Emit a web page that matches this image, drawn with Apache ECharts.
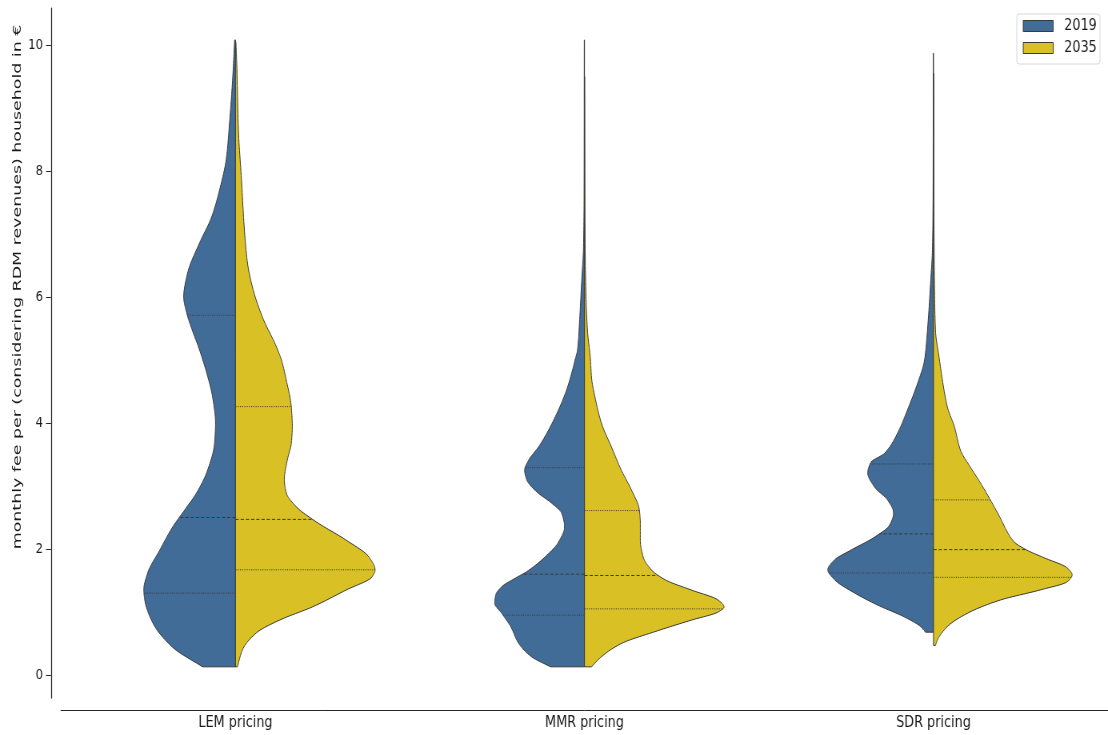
<!DOCTYPE html>
<html>
<head>
<meta charset="utf-8">
<script src="https://cdn.jsdelivr.net/npm/echarts@6/dist/echarts.min.js"></script>
<style>
  html, body { margin: 0; padding: 0; background: #fff; overflow: hidden; }
  #wrap { width: 1108px; height: 735px; overflow: hidden; }
  /* the figure is laid out wider and then squeezed horizontally */
  #chart { width: 1385px; height: 735px; transform: scaleX(0.8); transform-origin: 0 0; }
</style>
</head>
<body>
<div id="wrap"><div id="chart"></div></div>
<script>
// ---- data -------------------------------------------------------------
const categories = ['LEM pricing', 'MMR pricing', 'SDR pricing'];
const years = ['2019', '2035'];
const yTicks = [0, 2, 4, 6, 8, 10];

// kernel density profiles: [fee in €, relative density]
const lem2019 = [[0.13,.236],[0.44,.45],[0.83,.593],[1.19,.65],[1.35,.657],[1.62,.629],[1.98,.543],[2.35,.45],[2.62,.364],[2.89,.279],[3.25,.2],[3.68,.15],[4.0,.143],[4.41,.164],[4.8,.207],[5.2,.264],[5.5,.314],[5.75,.35],[6.0,.371],[6.38,.343],[6.86,.257],[7.27,.171],[7.7,.114],[8.22,.064],[8.76,.043],[9.44,.021],[10.08,.006]];
const lem2035 = [[0.13,.014],[0.40,.05],[0.67,.15],[0.87,.314],[1.08,.55],[1.35,.793],[1.56,.979],[1.67,1.0],[1.87,.957],[2.14,.793],[2.43,.579],[2.67,.436],[2.89,.364],[3.10,.35],[3.41,.371],[3.68,.4],[3.94,.407],[4.25,.4],[4.68,.364],[5.0,.329],[5.21,.293],[5.68,.193],[6.16,.121],[6.54,.086],[7.06,.064],[7.86,.043],[8.65,.021],[9.71,.009],[10.05,.003]];
const mmr2019 = [[0.13,.243],[0.29,.379],[0.5,.471],[0.77,.529],[0.98,.593],[1.14,.643],[1.27,.636],[1.40,.593],[1.54,.493],[1.64,.414],[1.88,.279],[2.11,.186],[2.35,.143],[2.57,.164],[2.73,.236],[2.91,.343],[3.10,.414],[3.25,.429],[3.41,.4],[3.62,.329],[3.89,.257],[4.21,.186],[4.52,.129],[4.84,.086],[5.0,.068],[5.16,.05],[5.59,.036],[6.22,.021],[6.8,.007],[7.6,.003],[10.08,.0015]];
const mmr2035 = [[0.13,.05],[0.29,.121],[0.5,.264],[0.69,.507],[0.87,.764],[1.0,.957],[1.08,1.0],[1.19,.957],[1.35,.764],[1.51,.579],[1.67,.479],[1.87,.421],[2.14,.4],[2.41,.4],[2.62,.393],[2.94,.336],[3.25,.264],[3.62,.193],[4.0,.121],[4.37,.079],[4.73,.05],[5.0,.043],[5.48,.021],[6.0,.011],[7.0,.004],[9.5,.0015]];
const sdr2019 = [[0.68,.057],[0.77,.093],[0.92,.207],[1.11,.4],[1.30,.564],[1.51,.707],[1.67,.757],[1.83,.707],[1.98,.593],[2.19,.421],[2.38,.314],[2.57,.286],[2.78,.329],[2.98,.421],[3.21,.471],[3.37,.45],[3.52,.35],[3.84,.257],[4.21,.186],[4.63,.114],[5.0,.064],[5.48,.043],[6.22,.021],[6.8,.007],[7.6,.003],[9.87,.0015]];
const sdr2035 = [[0.47,.014],[0.56,.029],[0.77,.1],[0.98,.243],[1.19,.479],[1.35,.764],[1.48,.957],[1.59,.993],[1.70,.957],[1.86,.793],[1.98,.671],[2.11,.579],[2.27,.529],[2.49,.479],[2.78,.407],[3.05,.336],[3.30,.264],[3.57,.193],[3.94,.15],[4.25,.1],[4.68,.064],[5.0,.043],[5.48,.014],[6.2,.007],[7.5,.003],[9.55,.0015]];

// quartiles [Q1, median, Q3]
const quart2019 = [[1.30, 2.50, 5.71], [0.95, 1.60, 3.29], [1.62, 2.24, 3.35]];
const quart2035 = [[1.67, 2.47, 4.26], [1.05, 1.58, 2.61], [1.55, 1.99, 2.78]];

const profiles = { '2019': [lem2019, mmr2019, sdr2019], '2035': [lem2035, mmr2035, sdr2035] };
const quartiles = { '2019': quart2019, '2035': quart2035 };
const colors = { '2019': '#426c98', '2035': '#d9c125' };

// ---- drawing helpers ---------------------------------------------------
const EDGE = '#3a3a3a';
const HALF = 0.4; // widest half-violin as a share of the category band

// monotone cubic (Fritsch–Carlson) tangents for a profile
function tangents(prof) {
  const n = prof.length, d = [], m = new Array(n);
  for (let i = 0; i < n - 1; i++) d.push((prof[i + 1][1] - prof[i][1]) / (prof[i + 1][0] - prof[i][0]));
  m[0] = d[0]; m[n - 1] = d[n - 2];
  for (let i = 1; i < n - 1; i++) {
    if (d[i - 1] * d[i] <= 0) { m[i] = 0; continue; }
    const h0 = prof[i][0] - prof[i - 1][0], h1 = prof[i + 1][0] - prof[i][0];
    const w1 = 2 * h1 + h0, w2 = h1 + 2 * h0;
    m[i] = (w1 + w2) / (w1 / d[i - 1] + w2 / d[i]);
  }
  return m;
}

// densely sampled outline [value, density] following the profile smoothly
function outline(prof, seg) {
  const m = tangents(prof), out = [];
  for (let i = 0; i < prof.length - 1; i++) {
    const [x0, y0] = prof[i], [x1, y1] = prof[i + 1], h = x1 - x0;
    for (let k = 0; k < seg; k++) {
      const t = k / seg, t2 = t * t, t3 = t2 * t;
      const y = (2 * t3 - 3 * t2 + 1) * y0 + (t3 - 2 * t2 + t) * h * m[i] +
                (-2 * t3 + 3 * t2) * y1 + (t3 - t2) * h * m[i + 1];
      out.push([x0 + t * h, Math.max(0, y)]);
    }
  }
  out.push(prof[prof.length - 1]);
  return out;
}

function densityAt(line, v) {
  for (let i = 0; i < line.length - 1; i++) {
    const a = line[i], b = line[i + 1];
    if (v >= a[0] && v <= b[0]) return a[1] + (b[1] - a[1]) * (v - a[0]) / (b[0] - a[0]);
  }
  return 0;
}

function makeRender(year, side) {
  return function (params, api) {
    const idx = api.value(0);
    const prof = profiles[year][idx];
    const line = outline(prof, 12);
    const cx = api.coord([idx, 0])[0];
    const scale = api.size([1, 0])[0] * HALF;
    const curve = line.map(p => [cx + side * p[1] * scale, api.coord([idx, p[0]])[1]]);
    const yBot = api.coord([idx, prof[0][0]])[1];
    const yTop = api.coord([idx, prof[prof.length - 1][0]])[1];
    const pts = [[cx, yBot]].concat(curve, [[cx, yTop]]);
    const children = [{
      type: 'polygon',
      shape: { points: pts },
      style: { fill: colors[year], stroke: EDGE, lineWidth: 1, lineJoin: 'round' }
    }];
    quartiles[year][idx].forEach((q, k) => {
      const y = api.coord([idx, q])[1];
      const w = densityAt(line, q) * scale;
      children.push({
        type: 'line',
        shape: { x1: cx, y1: y, x2: cx + side * w, y2: y },
        style: { stroke: EDGE, lineWidth: 1, lineDash: k === 1 ? [4, 2.5] : [1.2, 1.6] }
      });
    });
    return { type: 'group', children };
  };
}

// ---- chart -------------------------------------------------------------
const chart = echarts.init(document.getElementById('chart'), null, { renderer: 'canvas' });
const FONT = 'DejaVu Sans';
const TXT = '#1a1a1a';

chart.setOption({
  animation: false,
  backgroundColor: '#fff',
  grid: { left: 76.25, top: 8, width: 1312.5, bottom: 37, containLabel: false },
  legend: {
    data: years,
    orient: 'vertical',
    right: 10,
    top: 14,
    icon: 'rect',
    itemWidth: 37.5,
    itemHeight: 11,
    itemGap: 6,
    padding: [4, 4, 8, 7.5],
    borderColor: '#d6d6d6',
    borderWidth: 1,
    borderRadius: 3,
    itemStyle: { borderColor: EDGE, borderWidth: 1 },
    textStyle: { fontFamily: FONT, fontSize: 16, lineHeight: 16, color: TXT, padding: [0, 0, 0, 8.75] }
  },
  xAxis: {
    type: 'category',
    data: categories,
    boundaryGap: true,
    offset: 12,
    axisLine: { onZero: false, lineStyle: { color: '#262626', width: 1 } },
    axisTick: { alignWithLabel: true, length: 5, lineStyle: { color: '#262626', width: 1.25 } },
    axisLabel: { fontFamily: FONT, fontSize: 16, color: TXT, margin: 5 },
    splitLine: { show: false }
  },
  yAxis: {
    type: 'value',
    min: -0.365,
    max: 10.587,
    offset: 12.5,
    axisLine: { show: true, onZero: false, lineStyle: { color: '#262626', width: 1.25 } },
    axisTick: { show: true, length: 6.25, customValues: yTicks, lineStyle: { color: '#262626', width: 1 } },
    axisLabel: { fontFamily: FONT, fontSize: 14.5, color: TXT, margin: 10, customValues: yTicks },
    splitLine: { show: false }
  },
  graphic: [{
    type: 'text',
    x: 22,
    y: 287,
    rotation: Math.PI / 2,
    scaleX: 1.2,
    style: {
      text: 'monthly fee per (considering RDM revenues) household in €',
      font: '14.5px "DejaVu Sans"',
      fill: TXT,
      align: 'center',
      verticalAlign: 'middle'
    }
  }],
  series: years.map((yr, s) => ({
    name: yr,
    type: 'custom',
    itemStyle: { color: colors[yr], borderColor: EDGE },
    encode: { x: 0 },
    data: categories.map((c, i) => [i]),
    renderItem: makeRender(yr, s === 0 ? -1 : 1)
  }))
});
</script>
</body>
</html>
